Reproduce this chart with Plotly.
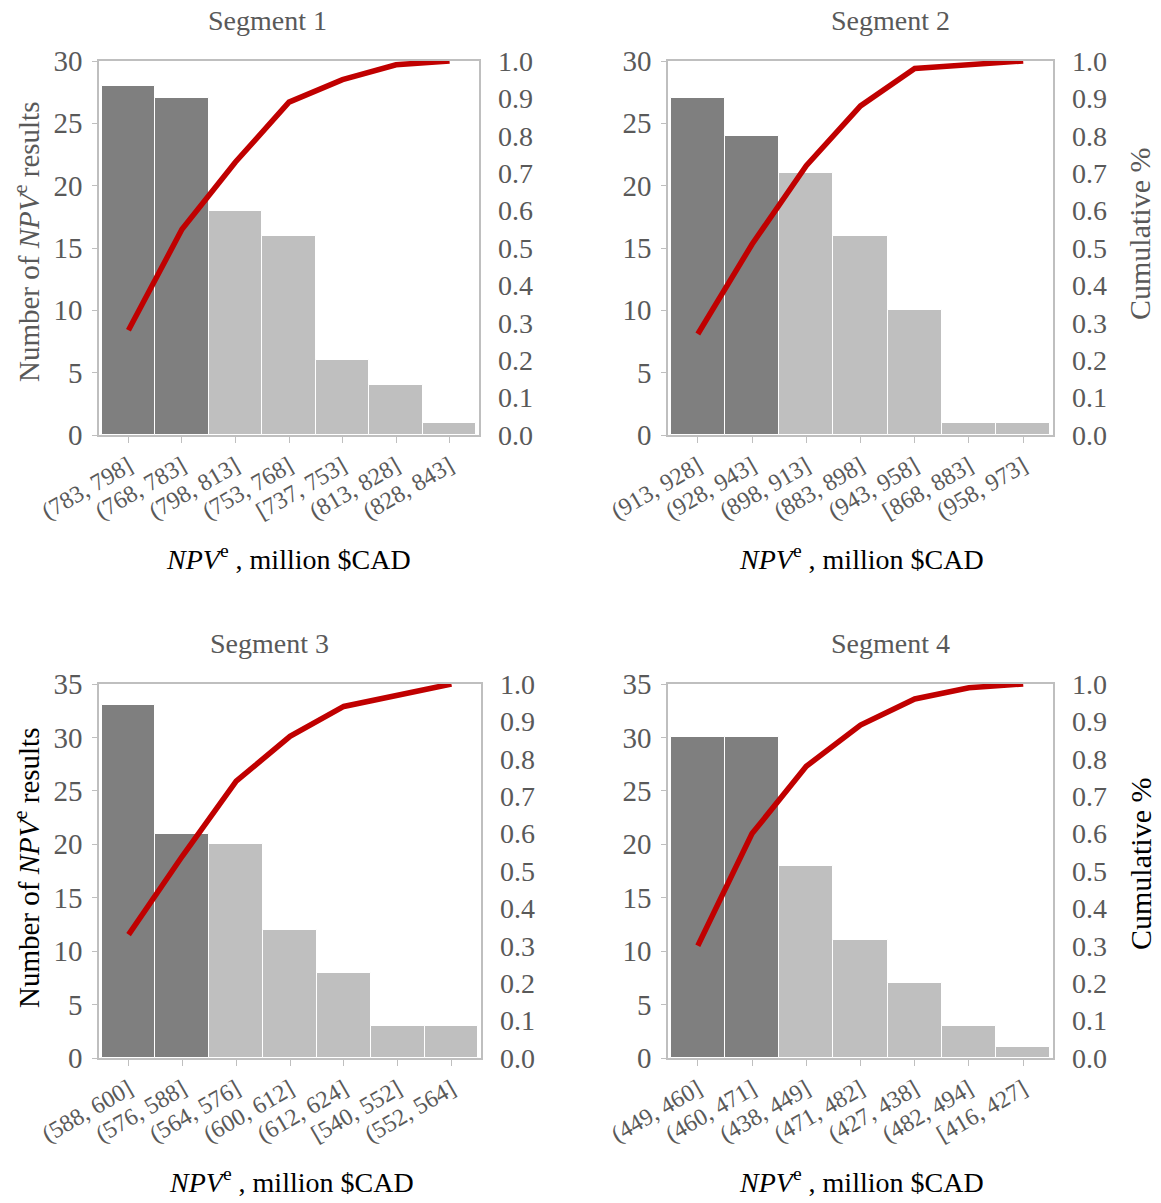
import plotly.graph_objects as go

# ---------------- data ----------------
seg1_bins = ["(783, 798]", "(768, 783]", "(798, 813]", "(753, 768]", "[737, 753]", "(813, 828]", "(828, 843]"]
seg1_counts = [28, 27, 18, 16, 6, 4, 1]
seg1_cum = [0.28, 0.55, 0.73, 0.89, 0.95, 0.99, 1.00]

seg2_bins = ["(913, 928]", "(928, 943]", "(898, 913]", "(883, 898]", "(943, 958]", "[868, 883]", "(958, 973]"]
seg2_counts = [27, 24, 21, 16, 10, 1, 1]
seg2_cum = [0.27, 0.51, 0.72, 0.88, 0.98, 0.99, 1.00]

seg3_bins = ["(588, 600]", "(576, 588]", "(564, 576]", "(600, 612]", "(612, 624]", "[540, 552]", "(552, 564]"]
seg3_counts = [33, 21, 20, 12, 8, 3, 3]
seg3_cum = [0.33, 0.54, 0.74, 0.86, 0.94, 0.97, 1.00]

seg4_bins = ["(449, 460]", "(460, 471]", "(438, 449]", "(471, 482]", "(427, 438]", "(482, 494]", "[416, 427]"]
seg4_counts = [30, 30, 18, 11, 7, 3, 1]
seg4_cum = [0.30, 0.60, 0.78, 0.89, 0.96, 0.99, 1.00]

titles = ["Segment 1", "Segment 2", "Segment 3", "Segment 4"]
left_max = [30, 30, 35, 35]
cum_ticks = [0.0, 0.1, 0.2, 0.3, 0.4, 0.5, 0.6, 0.7, 0.8, 0.9, 1.0]

# ---------------- style ----------------
W, H = 1161, 1203
FONT = "Liberation Serif"
GREY_TXT = "#595959"
FRAME = "#BFBFBF"
DARK_BAR = "#7F7F7F"
LIGHT_BAR = "#BFBFBF"
RED = "#C00000"

# panel boxes in pixels: (x0, x1, ytop, ybottom)
boxes = [(99, 479, 61, 435), (668, 1053, 61, 435),
         (99, 481, 684, 1058), (668, 1053, 684, 1058)]

def px_x(x):
    return x / W

def px_y(y):
    return 1 - y / H

segs = [(seg1_bins, seg1_counts, seg1_cum), (seg2_bins, seg2_counts, seg2_cum),
        (seg3_bins, seg3_counts, seg3_cum), (seg4_bins, seg4_counts, seg4_cum)]

fig = go.Figure()
layout = dict(
    width=W, height=H, margin=dict(l=0, r=0, t=0, b=0, autoexpand=False),
    paper_bgcolor="white", plot_bgcolor="white",
    showlegend=False, bargap=0,
    font=dict(family=FONT, color=GREY_TXT, size=26),
)

annotations = []
for i, (bins, counts, cum) in enumerate(segs):
    xn = "" if i == 0 else str(i + 1)
    yl = "" if i == 0 else str(2 * i + 1)
    yr = str(2 * i + 2)
    x0, x1, yt, yb = boxes[i]
    colors = [DARK_BAR if k < 2 else LIGHT_BAR for k in range(len(counts))]
    fig.add_trace(go.Bar(x=bins, y=counts, xaxis="x" + xn, yaxis="y" + yl,
                         marker=dict(color=colors, line=dict(color="white", width=1)),
                         width=1.0))
    fig.add_trace(go.Scatter(x=bins, y=cum, xaxis="x" + xn, yaxis="y" + yr,
                             mode="lines", line=dict(color=RED, width=5.5)))
    layout["xaxis" + xn] = dict(
        domain=[px_x(x0), px_x(x1)], anchor="y" + yl, type="category", automargin=False,
        range=[-0.55, 6.55], showline=True, linecolor=FRAME, linewidth=1.5, mirror=True,
        ticks="outside", ticklen=6, tickcolor=FRAME, tickangle=-30,
        tickfont=dict(family=FONT, size=24, color=GREY_TXT), showgrid=False, zeroline=False,
    )
    layout["yaxis" + yl] = dict(
        domain=[px_y(yb), px_y(yt)], anchor="x" + xn, range=[0, left_max[i]], dtick=5,
        automargin=False,
        showline=True, linecolor=FRAME, linewidth=1.5, mirror=True,
        ticks="outside", ticklen=5, tickcolor=FRAME, showgrid=False, zeroline=False,
        tickfont=dict(family=FONT, size=29, color=GREY_TXT), ticklabelstandoff=4,
    )
    layout["yaxis" + yr] = dict(
        overlaying="y" + yl, side="right", anchor="x" + xn, range=[0, 1.0], automargin=False,
        tickvals=cum_ticks, tickformat=".1f", showline=False, ticks="",
        showgrid=False, zeroline=False, ticklabelstandoff=18,
        tickfont=dict(family=FONT, size=28, color=GREY_TXT),
    )

# titles (Segment n)
title_pos = [(267, 20), (890, 20), (269, 643), (890, 643)]
for t, (tx, ty) in zip(titles, title_pos):
    annotations.append(dict(text=t, x=px_x(tx), y=px_y(ty), xref="paper", yref="paper",
                            showarrow=False, xanchor="center", yanchor="middle",
                            font=dict(family=FONT, size=28, color=GREY_TXT)))

# x axis titles
xt_pos = [(288, 557), (861, 557), (291, 1180), (861, 1180)]
for tx, ty in xt_pos:
    annotations.append(dict(text="<i>NPV</i><sup>e</sup> , million $CAD", x=px_x(tx), y=px_y(ty),
                            xref="paper", yref="paper", showarrow=False,
                            xanchor="center", yanchor="middle",
                            font=dict(family=FONT, size=28, color="black")))

# left y titles
for (ty, col) in [(242, GREY_TXT), (868, "black")]:
    annotations.append(dict(text="Number of <i>NPV</i><sup>e</sup> results", x=px_x(27), y=px_y(ty),
                            xref="paper", yref="paper", showarrow=False, textangle=-90,
                            xanchor="center", yanchor="middle",
                            font=dict(family=FONT, size=29, color=col)))

# right y titles
for (ty, col) in [(234, GREY_TXT), (864, "black")]:
    annotations.append(dict(text="Cumulative %", x=px_x(1140), y=px_y(ty),
                            xref="paper", yref="paper", showarrow=False, textangle=-90,
                            xanchor="center", yanchor="middle",
                            font=dict(family=FONT, size=30, color=col)))

layout["annotations"] = annotations
fig.update_layout(**layout)
fig.write_html("out.html")
